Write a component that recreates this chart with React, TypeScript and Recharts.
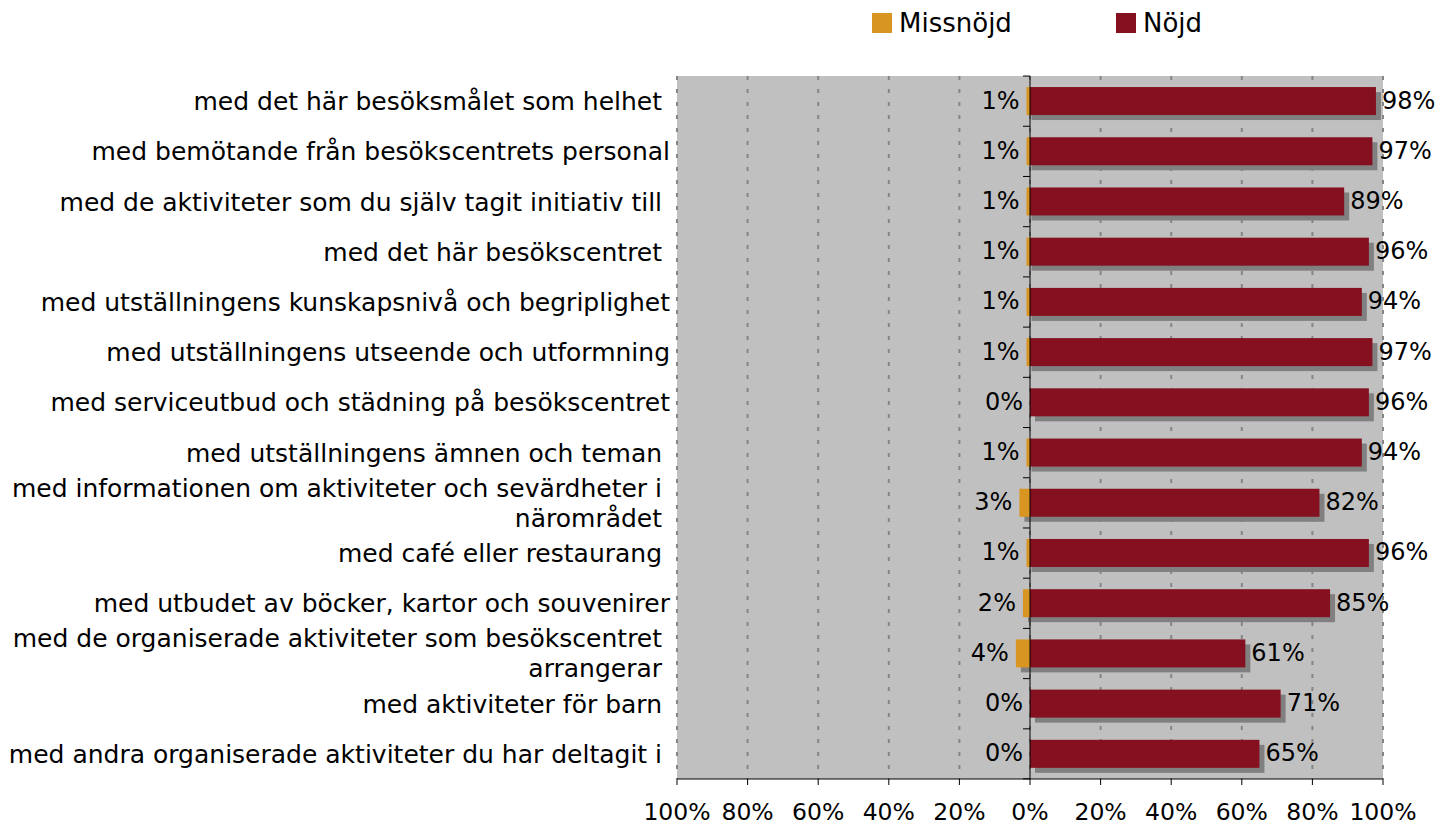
import {
  BarChart,
  Bar,
  XAxis,
  YAxis,
  CartesianGrid,
  ReferenceLine,
  LabelList,
} from "recharts";

const FONT = "'DejaVu Sans', sans-serif";

// category labels (trailing spaces kept as in the original, "\n" = line break)
const categories = [
  "med det här besöksmålet som helhet ",
  "med bemötande från besökscentrets personal",
  "med de aktiviteter som du själv tagit initiativ till ",
  "med det här besökscentret ",
  "med utställningens kunskapsnivå och begriplighet",
  "med utställningens utseende och utformning",
  "med serviceutbud och städning på besökscentret",
  "med utställningens ämnen och teman ",
  "med informationen om aktiviteter och sevärdheter i \nnärområdet ",
  "med café eller restaurang ",
  "med utbudet av böcker, kartor och souvenirer",
  "med de organiserade aktiviteter som besökscentret \narrangerar ",
  "med aktiviteter för barn ",
  "med andra organiserade aktiviteter du har deltagit i ",
];

const missnojd = [1, 1, 1, 1, 1, 1, 0, 1, 3, 1, 2, 4, 0, 0];
const nojd = [98, 97, 89, 96, 94, 97, 96, 94, 82, 96, 85, 61, 71, 65];

const xTicks = [-100, -80, -60, -40, -20, 0, 20, 40, 60, 80, 100];

const ORANGE = "#D99522";
const RED = "#85101F";
const SHADOW = "#808080";
const GAP = 0.22;

const data = categories.map((name, i) => ({
  name,
  missnojd: -missnojd[i],
  nojd: nojd[i],
}));

const CategoryTick = (props: any) => {
  const { x, y, payload } = props;
  const lines = String(payload.value).split("\n");
  const lh = 30;
  const y0 = y - ((lines.length - 1) * lh) / 2;
  return (
    <text
      x={x}
      y={y0}
      textAnchor="end"
      fontFamily={FONT}
      fontSize={25}
      fill="#000"
      xmlSpace="preserve"
      style={{ whiteSpace: "pre" }}
    >
      {lines.map((l, i) => (
        <tspan key={i} x={x} dy={i === 0 ? 9 : lh}>
          {l}
        </tspan>
      ))}
    </text>
  );
};

const ShadowBar = (props: any) => {
  const { x, y, width, height, fill, index, withTicks } = props;
  const left = Math.min(x, x + width);
  const w = Math.abs(width);
  const band = height / (1 - 2 * GAP);
  const top = y - GAP * band;
  return (
    <g>
      {w > 0 && (
        <rect x={left + 5} y={y + 5} width={w} height={height} fill={SHADOW} />
      )}
      {w > 0 && <rect x={left} y={y} width={w} height={height} fill={fill} />}
      {withTicks && (
        <line x1={left - 7} x2={left} y1={top} y2={top} stroke="#000" />
      )}
      {withTicks && index === categories.length - 1 && (
        <line
          x1={left - 7}
          x2={left}
          y1={top + band}
          y2={top + band}
          stroke="#000"
        />
      )}
    </g>
  );
};

const leftLabel = (props: any) => {
  const { x, y, width, height, value } = props;
  const left = Math.min(Number(x), Number(x) + Number(width));
  return (
    <text
      x={left - 7}
      y={Number(y) + Number(height) / 2 + 7.5}
      textAnchor="end"
      fontFamily={FONT}
      fontSize={24}
      fill="#000"
    >
      {Math.abs(Number(value))}%
    </text>
  );
};

const rightLabel = (props: any) => {
  const { x, y, width, height, value } = props;
  const right = Math.max(Number(x), Number(x) + Number(width));
  return (
    <text
      x={right + 6}
      y={Number(y) + Number(height) / 2 + 7.5}
      textAnchor="start"
      fontFamily={FONT}
      fontSize={24}
      fill="#000"
    >
      {Math.abs(Number(value))}%
    </text>
  );
};

const legendItems = [
  { label: "Missnöjd", color: ORANGE },
  { label: "Nöjd", color: RED },
];

export default function App() {
  return (
    <div
      style={{
        position: "absolute",
        left: 0,
        top: 0,
        width: 1443,
        height: 825,
        background: "#fff",
      }}
    >
      <div
        style={{
          position: "absolute",
          left: 872,
          top: 13,
          display: "flex",
          fontFamily: FONT,
          fontSize: 26,
          lineHeight: "20px",
          zIndex: 2,
        }}
      >
        {legendItems.map((it) => (
          <div key={it.label} style={{ display: "flex", width: 244 }}>
            <span
              style={{
                width: 20,
                height: 20,
                background: it.color,
                marginRight: 7,
              }}
            />
            <span>{it.label}</span>
          </div>
        ))}
      </div>
      <BarChart
        width={1443}
        height={825}
        data={data}
        layout="vertical"
        stackOffset="sign"
        barCategoryGap={`${GAP * 100}%`}
        margin={{ top: 76, right: 60, bottom: 0, left: 0 }}
      >
        <CartesianGrid
          horizontal={false}
          fill="#C0C0C0"
          stroke="#858585"
          strokeWidth={2}
          strokeDasharray="4 9"
        />
        <XAxis
          type="number"
          domain={[-100, 100]}
          ticks={xTicks}
          interval={0}
          height={46}
          tickFormatter={(v: number) => `${Math.abs(v)}%`}
          tickSize={6}
          tickMargin={18}
          axisLine={{ stroke: "#000" }}
          tickLine={{ stroke: "#000" }}
          tick={{ fontFamily: FONT, fontSize: 23.5, fill: "#000" }}
        />
        <YAxis
          type="category"
          dataKey="name"
          width={677}
          interval={0}
          tickSize={0}
          tickMargin={7}
          tickLine={false}
          axisLine={false}
          tick={<CategoryTick />}
        />
        <ReferenceLine x={0} stroke="#000" strokeWidth={1} />
        <Bar
          dataKey="missnojd"
          stackId="a"
          fill={ORANGE}
          isAnimationActive={false}
          shape={<ShadowBar />}
        >
          <LabelList dataKey="missnojd" content={leftLabel} />
        </Bar>
        <Bar
          dataKey="nojd"
          stackId="a"
          fill={RED}
          isAnimationActive={false}
          shape={<ShadowBar withTicks />}
        >
          <LabelList dataKey="nojd" content={rightLabel} />
        </Bar>
      </BarChart>
    </div>
  );
}
